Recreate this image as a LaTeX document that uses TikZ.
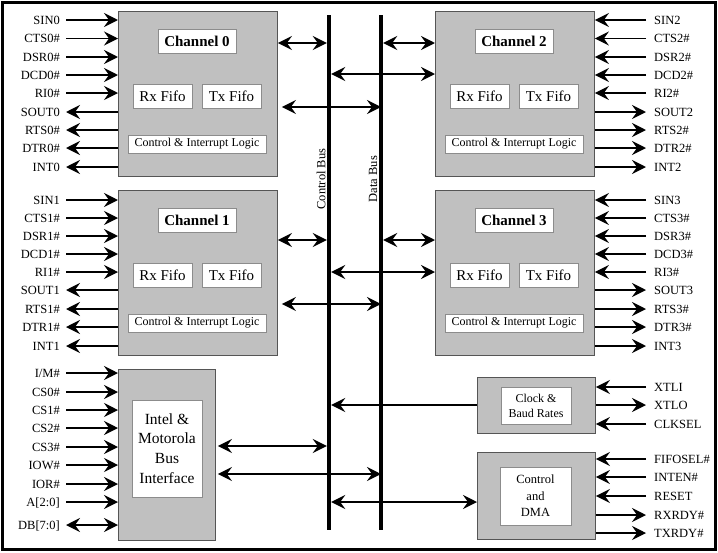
\documentclass[tikz,border=0pt]{standalone}
\usepackage{fontspec}
\setmainfont{Liberation Serif}
\usetikzlibrary{arrows.meta,calc}
\definecolor{boxgray}{RGB}{192,192,192}
\definecolor{edgegray}{RGB}{85,85,85}
\definecolor{inedge}{RGB}{140,140,140}
\newcommand{\SigL}[5]{%
  \node[lbl, anchor=east] (#1) at (60,#3) {#2};
  \draw[#4] ([xshift=6pt]#1.east) -- (#1.east -| #5.west);}
\newcommand{\SigR}[5]{%
  \node[lbl, anchor=west] (#1) at (654,#3) {#2};
  \draw[#4] ([xshift=-8pt]#1.west) -- (#1.west -| #5.east);}
\begin{document}
\begin{tikzpicture}[x=1pt,y=-1pt,
  >={Stealth[length=14pt,width=14pt,inset=5pt]},
  wire/.style={line width=2.6pt},
  thinwire/.style={line width=1.3pt},
  midwire/.style={line width=1.9pt},
  lbl/.style={font=\fontsize{12.5}{14}\selectfont, inner sep=0pt, text height=8.5pt, text depth=0pt},
  blk/.style={draw=edgegray, line width=0.9pt, fill=boxgray, anchor=north west, inner sep=0pt},
  inbox/.style={draw=inedge, line width=0.7pt, fill=white, inner sep=0pt, align=center},
  busbar/.style={fill=black, inner sep=0pt, minimum width=4pt, minimum height=515pt}]
\useasboundingbox (0,0) rectangle (718,552);
\draw[line width=2.5pt] (2.5,2.5) rectangle (715.5,549.5);

% buses
\node[busbar] (cbus) at (329,272.5) {};
\node[busbar] (dbus) at (381,272.5) {};
\node[rotate=90, font=\fontsize{12.5}{14}\selectfont, inner sep=0pt] (cbl) at (321,179) {Control Bus};
\node[rotate=90, font=\fontsize{12.5}{14}\selectfont, inner sep=0pt] (dbl) at (373,179) {Data Bus};

% channels
\foreach \n/\x/\y in {0/118/11, 1/118/190, 2/435/11, 3/435/190} {
  \node[blk, minimum width=159pt, minimum height=165pt] (ch\n) at (\x,\y) {};
  \node[inbox, minimum width=78pt, minimum height=24pt, font=\bfseries\fontsize{15}{17}\selectfont] (ch\n t) at ($(ch\n.north west)+(79,30)$) {Channel \n};
  \node[inbox, minimum width=59pt, minimum height=24pt, font=\fontsize{15}{17}\selectfont] (ch\n rx) at ($(ch\n.north west)+(44.5,85)$) {Rx Fifo};
  \node[inbox, minimum width=59pt, minimum height=24pt, font=\fontsize{15}{17}\selectfont] (ch\n tx) at ($(ch\n.north west)+(113.5,85)$) {Tx Fifo};
  \node[inbox, minimum width=138pt, minimum height=18pt, font=\fontsize{12}{14}\selectfont] (ch\n c) at ($(ch\n.north west)+(79,133)$) {Control \& Interrupt Logic};
}

% channel signals
\SigL{sinA}{SIN0}{20}{wire,->}{ch0}
\SigL{ctsA}{CTS0\#}{38.5}{thinwire,->}{ch0}
\SigL{dsrA}{DSR0\#}{57}{wire,->}{ch0}
\SigL{dcdA}{DCD0\#}{75}{wire,->}{ch0}
\SigL{riA}{RI0\#}{93}{thinwire,->}{ch0}
\SigL{soutA}{SOUT0}{112}{wire,<-}{ch0}
\SigL{rtsA}{RTS0\#}{130}{wire,<-}{ch0}
\SigL{dtrA}{DTR0\#}{148}{midwire,<-}{ch0}
\SigL{intA}{INT0}{167}{wire,<-}{ch0}

\SigL{sinB}{SIN1}{200}{wire,->}{ch1}
\SigL{ctsB}{CTS1\#}{218}{thinwire,->}{ch1}
\SigL{dsrB}{DSR1\#}{236}{wire,->}{ch1}
\SigL{dcdB}{DCD1\#}{254}{wire,->}{ch1}
\SigL{riB}{RI1\#}{272}{thinwire,->}{ch1}
\SigL{soutB}{SOUT1}{290}{wire,<-}{ch1}
\SigL{rtsB}{RTS1\#}{309}{wire,<-}{ch1}
\SigL{dtrB}{DTR1\#}{327}{midwire,<-}{ch1}
\SigL{intB}{INT1}{346}{wire,<-}{ch1}

\SigR{sinC}{SIN2}{20}{wire,->}{ch2}
\SigR{ctsC}{CTS2\#}{38.5}{thinwire,->}{ch2}
\SigR{dsrC}{DSR2\#}{57}{wire,->}{ch2}
\SigR{dcdC}{DCD2\#}{75}{wire,->}{ch2}
\SigR{riC}{RI2\#}{93}{thinwire,->}{ch2}
\SigR{soutC}{SOUT2}{112}{wire,<-}{ch2}
\SigR{rtsC}{RTS2\#}{130}{wire,<-}{ch2}
\SigR{dtrC}{DTR2\#}{148}{midwire,<-}{ch2}
\SigR{intC}{INT2}{167}{wire,<-}{ch2}

\SigR{sinD}{SIN3}{200}{wire,->}{ch3}
\SigR{ctsD}{CTS3\#}{218}{thinwire,->}{ch3}
\SigR{dsrD}{DSR3\#}{236}{wire,->}{ch3}
\SigR{dcdD}{DCD3\#}{254}{wire,->}{ch3}
\SigR{riD}{RI3\#}{272}{thinwire,->}{ch3}
\SigR{soutD}{SOUT3}{290}{wire,<-}{ch3}
\SigR{rtsD}{RTS3\#}{309}{wire,<-}{ch3}
\SigR{dtrD}{DTR3\#}{327}{midwire,<-}{ch3}
\SigR{intD}{INT3}{346}{wire,<-}{ch3}

% channel bus connections
\path ($(ch0.north east)+(0,32)$) coordinate (a0)
      ($(ch2.north west)+(0,63)$) coordinate (b0)
      ($(ch0.north east)+(0,96)$) coordinate (c0)
      ($(ch2.north west)+(0,32)$) coordinate (d0)
      ($(ch1.north east)+(0,50)$) coordinate (a1)
      ($(ch3.north west)+(0,82)$) coordinate (b1)
      ($(ch1.north east)+(0,114)$) coordinate (c1)
      ($(ch3.north west)+(0,50)$) coordinate (d1);
\foreach \k in {0,1} {
  \draw[wire,<->] (a\k) -- (a\k -| cbus.west);
  \draw[wire,<->] (b\k -| cbus.east) -- (b\k);
  \draw[midwire,<->] ([xshift=4pt]c\k) -- (c\k -| dbus.center);
  \draw[wire,<->] (d\k -| dbus.east) -- (d\k);
}

% bus interface
\node[blk, minimum width=97pt, minimum height=171pt] (ib) at (118,369) {};
\node[inbox, minimum width=70pt, minimum height=97pt, font=\fontsize{15.5}{19.7}\selectfont] (ibt) at ($(ib.north west)+(49,79.5)$) {Intel \&\\Motorola\\Bus\\Interface};
\SigL{imA}{I/M\#}{373}{wire,->}{ib}
\SigL{csA}{CS0\#}{392}{wire,->}{ib}
\SigL{csB}{CS1\#}{410}{thinwire,->}{ib}
\SigL{csC}{CS2\#}{428}{wire,->}{ib}
\SigL{csD}{CS3\#}{447}{wire,->}{ib}
\SigL{iowA}{IOW\#}{465}{thinwire,->}{ib}
\SigL{iorA}{IOR\#}{484}{wire,->}{ib}
\SigL{addrA}{A[2:0]}{502}{wire,->}{ib}
\SigL{dataA}{DB[7:0]}{525}{wire,<->}{ib}
\path ($(ib.north east)+(0,77)$) coordinate (e0)
      ($(ib.north east)+(0,105)$) coordinate (f0);
\draw[wire,<->] ([xshift=2pt]e0) -- (e0 -| cbus.west);
\draw[wire,<->] ([xshift=2pt]f0) -- (f0 -| dbus.center);

% clock
\node[blk, minimum width=118pt, minimum height=56pt] (clk) at (477,377) {};
\node[inbox, minimum width=70pt, minimum height=37pt, font=\fontsize{12}{15}\selectfont] (clkt) at ($(clk.north west)+(59,28.5)$) {Clock \&\\Baud Rates};
\SigR{xtliA}{XTLI}{387}{wire,->}{clk}
\SigR{xtloA}{XTLO}{405}{wire,<-}{clk}
\SigR{clkselA}{CLKSEL}{424}{thinwire,->}{clk}
\path ($(clk.north west)+(0,28)$) coordinate (g0);
\draw[midwire,->] (g0) -- (g0 -| cbus.east);

% control and DMA
\node[blk, minimum width=118pt, minimum height=87pt] (dma) at (477,452) {};
\node[inbox, minimum width=71pt, minimum height=58pt, font=\fontsize{12.5}{16.5}\selectfont] (dmat) at ($(dma.north west)+(58.5,44)$) {Control\\and\\DMA};
\SigR{fifoselA}{FIFOSEL\#}{459}{wire,->}{dma}
\SigR{intenA}{INTEN\#}{477}{thinwire,->}{dma}
\SigR{resetA}{RESET}{496}{wire,->}{dma}
\SigR{rxrdyA}{RXRDY\#}{515}{wire,<-}{dma}
\SigR{txrdyA}{TXRDY\#}{533}{thinwire,<-}{dma}
\path ($(dma.north west)+(0,50)$) coordinate (h0);
\draw[wire,<->] (h0 -| cbus.east) -- (h0);
\end{tikzpicture}
\end{document}
